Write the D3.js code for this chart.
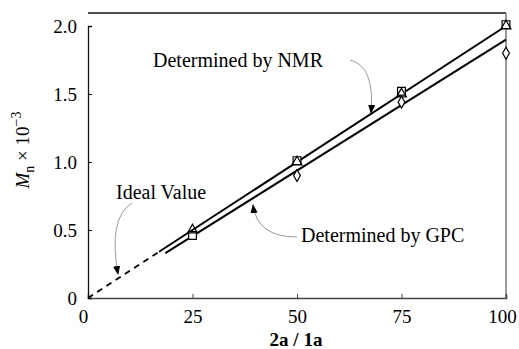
<!DOCTYPE html>
<html><head><meta charset="utf-8">
<script src="https://cdn.jsdelivr.net/npm/d3@7"></script>
<style>body{margin:0;background:#fff}svg{display:block}svg text{font-family:"Liberation Serif","DejaVu Serif",serif !important}</style>
</head><body><svg id="c" width="519" height="349"></svg>
<script>
const xTicks = [0, 25, 50, 75, 100];
const xTickLabels = ["0", "25", "50", "75", "100"];
const yTicks = [0, 0.5, 1.0, 1.5, 2.0];
const yTickLabels = ["0", "0.5", "1.0", "1.5", "2.0"];
const ratio = [25, 50, 75, 100];
const nmrSquare = [0.46, 1.01, 1.52, 2.01];
const nmrTriangle = [0.50, 1.00, 1.50, 2.00];
const gpcRatio = [50, 75, 100];
const gpcDiamond = [0.90, 1.44, 1.80];
const idealLine = [[0, 0], [17, 0.34]];
const nmrLine = [[17, 0.34], [100, 2.0]];
const gpcLine = [[18.5, 0.33], [100, 1.90]];

const FONT = "Liberation Serif";
const svg = d3.select("#c");
const x = d3.scaleLinear().domain([0, 100]).range([88, 506]);
const y = d3.scaleLinear().domain([0, 2]).range([298, 26]);

svg.append("defs").append("marker").attr("id","ah").attr("viewBox","0 0 10 10")
  .attr("refX",9).attr("refY",5).attr("markerWidth",9).attr("markerHeight",9)
  .attr("orient","auto").attr("markerUnits","userSpaceOnUse")
  .append("path").attr("d","M0,1 L10,5 L0,9 Z").attr("fill","#000");

// frame
svg.append("line").attr("x1",88).attr("x2",506).attr("y1",13).attr("y2",13).attr("stroke","#111").attr("stroke-width",1.3);
svg.append("line").attr("x1",506).attr("x2",506).attr("y1",13).attr("y2",298).attr("stroke","#777").attr("stroke-width",1.5);

const xAxis = d3.axisBottom(x).tickValues(xTicks).tickSize(-4).tickPadding(12).tickFormat((d,i)=>xTickLabels[i]);
const gx = svg.append("g").attr("transform","translate(0,298)").call(xAxis).attr("font-family",FONT);
gx.select(".domain").attr("stroke","#444").attr("stroke-width",1.5);
gx.selectAll(".tick line").attr("stroke","#444");
gx.selectAll("text").attr("font-size",19).attr("fill","#000");
gx.selectAll(".tick").filter(d=>d===0).select("text").attr("dx",-5);
gx.selectAll(".tick").filter(d=>d===100).select("text").attr("dx",-4);

const yAxis = d3.axisLeft(y).tickValues(yTicks).tickSize(-4).tickPadding(11).tickFormat((d,i)=>yTickLabels[i]);
const gy = svg.append("g").attr("transform","translate(88,0)").call(yAxis).attr("font-family",FONT);
gy.select(".domain").attr("stroke","#111").attr("stroke-width",1.3);
gy.selectAll(".tick line").attr("stroke","#111");
gy.selectAll("text").attr("font-size",19).attr("fill","#000");

// lines
const ln = d3.line().x(d=>x(d[0])).y(d=>y(d[1]));
svg.append("path").attr("d",ln(idealLine)).attr("stroke","#000").attr("stroke-width",1.8).attr("stroke-dasharray","6,5").attr("fill","none");
svg.append("path").attr("d",ln(nmrLine)).attr("stroke","#000").attr("stroke-width",2).attr("fill","none");
svg.append("path").attr("d",ln(gpcLine)).attr("stroke","#000").attr("stroke-width",2).attr("fill","none");

// markers
const sq = d3.symbol().type(d3.symbolSquare).size(60);
const tri = d3.symbol().type(d3.symbolTriangle).size(42);
const dia = d3.symbol().type(d3.symbolDiamond).size(40);
svg.selectAll(".sq").data(ratio).enter().append("path")
  .attr("d",sq).attr("transform",(d,i)=>`translate(${x(d)},${y(nmrSquare[i])})`)
  .attr("fill","#fff").attr("stroke","#000").attr("stroke-width",1.2);
svg.selectAll(".tri").data(ratio).enter().append("path")
  .attr("d",tri).attr("transform",(d,i)=>`translate(${x(d)},${y(nmrTriangle[i])})`)
  .attr("fill","none").attr("stroke","#000").attr("stroke-width",1.2);
svg.selectAll(".dia").data(gpcRatio).enter().append("path")
  .attr("d",dia).attr("transform",(d,i)=>`translate(${x(d)},${y(gpcDiamond[i])})`)
  .attr("fill","#fff").attr("stroke","#000").attr("stroke-width",1.2);

// annotations
const ann = svg.append("g").attr("font-family",FONT);
ann.append("text").attr("x",153).attr("y",67).attr("font-size",20).text("Determined by NMR");
ann.append("text").attr("x",301).attr("y",242).attr("font-size",20).text("Determined by GPC");
ann.append("text").attr("x",116).attr("y",199).attr("font-size",20).text("Ideal Value");
const arrow = (d)=>ann.append("path").attr("d",d).attr("fill","none").attr("stroke","#999").attr("stroke-width",1).attr("marker-end","url(#ah)");
arrow("M350,60 Q375,66 371,113");
arrow("M297,237 Q257,237 253,205");
arrow("M132,203 Q108,218 118,274");

// axis titles
const yt = svg.append("text").attr("font-family",FONT).attr("transform","translate(29,150) rotate(-90)").attr("text-anchor","middle").attr("font-size",19);
yt.append("tspan").attr("font-style","italic").text("M");
yt.append("tspan").attr("font-size",14).attr("dy",5).text("n");
yt.append("tspan").attr("dy",-5).text(" × 10");
yt.append("tspan").attr("font-size",14).attr("dy",-8).text("−3");
svg.append("text").attr("font-family",FONT).attr("x",296).attr("y",346).attr("text-anchor","middle").attr("font-size",19).attr("font-weight","bold").text("2a / 1a");
</script></body></html>
